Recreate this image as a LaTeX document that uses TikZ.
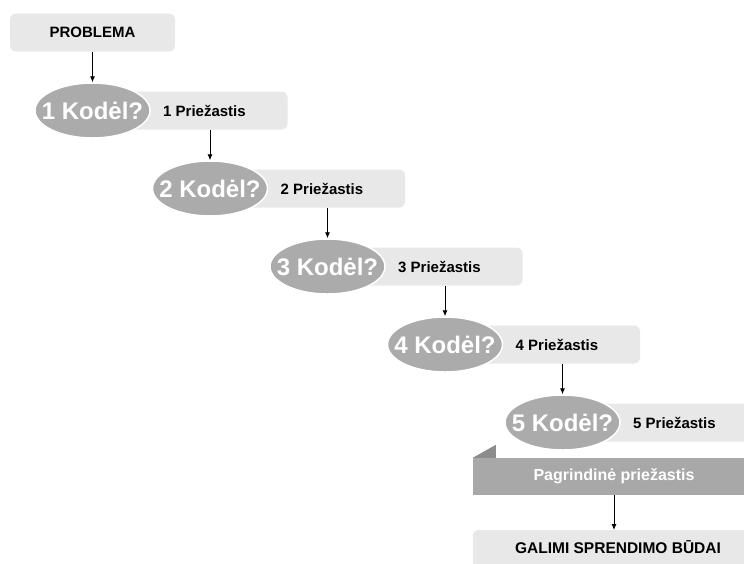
\documentclass[tikz,border=0pt]{standalone}
\usepackage{fontspec}
\setmainfont{Liberation Sans}
\usetikzlibrary{shapes.geometric,arrows.meta,backgrounds}
\definecolor{boxgray}{HTML}{E8E8E8}
\definecolor{ovalgray}{HTML}{ABABAB}
\definecolor{ribbongray}{HTML}{A8A8A8}
\definecolor{foldgray}{HTML}{8C8C8C}
\begin{document}
\begin{tikzpicture}[x=1pt,y=-1pt,
  causebox/.style={fill=boxgray, rounded corners=6pt, minimum height=38pt, inner sep=0pt},
  why/.style={ellipse, fill=ovalgray, draw=white, line width=1.5pt,
    minimum width=115pt, minimum height=55pt, inner sep=0pt, text=white,
    font=\bfseries\fontsize{24}{24}\selectfont},
  cause/.style={anchor=west, inner sep=0pt, font=\bfseries\fontsize{15}{15}\selectfont},
  flow/.style={-{Latex[length=6pt,width=5pt]}, line width=0.9pt}]
\clip (0,0) rectangle (744,563);

% problem statement
\node[causebox, minimum width=165pt, font=\bfseries\fontsize{15}{15}\selectfont] (prob) at (92.5,32.5) {PROBLEMA};

% the five why / cause steps
\foreach \i in {1,...,5}{
  \pgfmathsetmacro{\cx}{92.5+(\i-1)*117.5}
  \pgfmathsetmacro{\cy}{110.5+(\i-1)*78}
  \node[causebox, minimum width=195pt] (r\i) at (\cx+97.5,\cy) {};
  \node[cause] (c\i) at (\cx+70.5,\cy) {\i{} Priežastis};
  \node[why] (e\i) at (\cx,\cy) {\makebox[0pt]{\i{} Kodėl?}};
}

% connectors between steps
\draw[flow] (prob.south -| e1.north) -- (e1.north);
\foreach \i/\j in {1/2,2/3,3/4,4/5}{
  \draw[flow] (r\i.south -| e\j.north) -- (e\j.north);
}

% root cause ribbon with folded corner
\node[fill=ribbongray, minimum width=282pt, minimum height=37pt, inner sep=0pt,
  text=white, font=\bfseries\fontsize{16}{16}\selectfont] (root) at (614,476.5) {Pagrindinė priežastis};
\fill[foldgray] (root.north west) -- ++(23,-13) -- ++(0,13) -- cycle;

% possible solutions
\node[anchor=north, minimum width=290pt, minimum height=33pt, inner sep=0pt,
  font=\bfseries\fontsize{15.5}{15.5}\selectfont] (sol) at (618,530) {GALIMI SPRENDIMO BŪDAI};
\begin{pgfonlayer}{background}
  \fill[boxgray, rounded corners=6pt] (sol.north west) rectangle ([yshift=-15pt]sol.south east);
\end{pgfonlayer}
\draw[flow] (root.south) -- (root.south |- sol.north);
\end{tikzpicture}
\end{document}
